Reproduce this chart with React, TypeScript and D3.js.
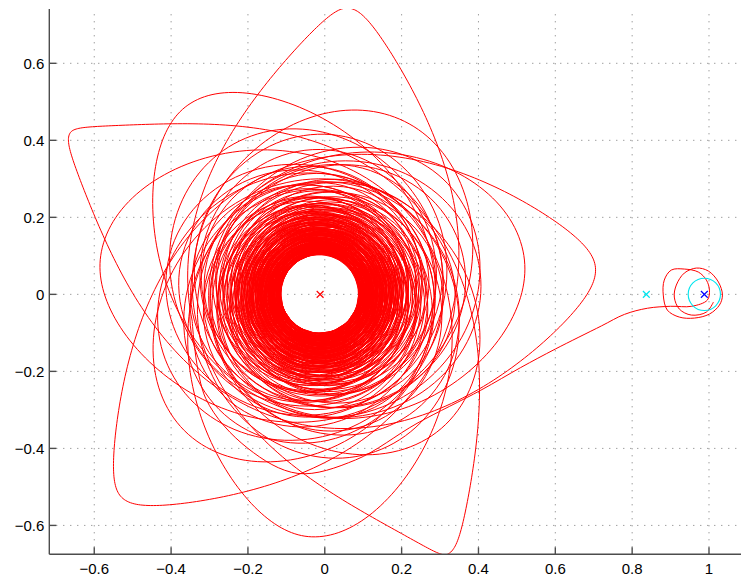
import React, { useMemo } from 'react';
import * as d3 from 'd3';

const W = 744, H = 581;
const PX0 = 49.3, PX1 = 741, PY0 = 9, PY1 = 554.3;
const xDomain: [number, number] = [-0.717, 1.0833];
const yDomain: [number, number] = [-0.675, 0.741];

const xTicks = [-0.6, -0.4, -0.2, 0, 0.2, 0.4, 0.6, 0.8, 1];
const xTickLabels = ['\u22120.6', '\u22120.4', '\u22120.2', '0', '0.2', '0.4', '0.6', '0.8', '1'];
const yTicks = [-0.6, -0.4, -0.2, 0, 0.2, 0.4, 0.6];
const yTickLabels = ['\u22120.6', '\u22120.4', '\u22120.2', '0', '0.2', '0.4', '0.6'];

// Earth-Moon rotating frame
const MU = 0.01215;
const earthPos = [-0.01215, 0];
const moonPos = [0.98785, 0];
const l1Pos = [0.8369, 0];
const moonCircleR = 0.042;

// inner low-thrust spiral: semi-major axis per revolution
const spiralA = [
  0.1040, 0.1043, 0.1045, 0.1048, 0.1050, 0.1053, 0.1055, 0.1058, 0.1060, 0.1063,
  0.1065, 0.1068, 0.1071, 0.1073, 0.1076, 0.1079, 0.1081, 0.1084, 0.1087, 0.1090,
  0.1093, 0.1096, 0.1099, 0.1101, 0.1104, 0.1107, 0.1110, 0.1113, 0.1116, 0.1119,
  0.1122, 0.1125, 0.1128, 0.1132, 0.1135, 0.1138, 0.1141, 0.1144, 0.1147, 0.1150,
  0.1153, 0.1157, 0.1160, 0.1163, 0.1167, 0.1170, 0.1173, 0.1177, 0.1180, 0.1183,
  0.1187, 0.1190, 0.1194, 0.1197, 0.1201, 0.1205, 0.1208, 0.1212, 0.1215, 0.1219,
  0.1223, 0.1227, 0.1231, 0.1235, 0.1239, 0.1243, 0.1246, 0.1250, 0.1254, 0.1258,
  0.1262, 0.1267, 0.1271, 0.1275, 0.1279, 0.1283, 0.1288, 0.1292, 0.1296, 0.1300,
  0.1305, 0.1309, 0.1314, 0.1318, 0.1323, 0.1327, 0.1332, 0.1336, 0.1341, 0.1345,
  0.1350, 0.1355, 0.1360, 0.1364, 0.1369, 0.1374, 0.1379, 0.1384, 0.1388, 0.1393,
  0.1398, 0.1403, 0.1409, 0.1414, 0.1419, 0.1424, 0.1429, 0.1435, 0.1440, 0.1445,
  0.1450, 0.1456, 0.1462, 0.1467, 0.1473, 0.1478, 0.1484, 0.1490, 0.1495, 0.1501,
  0.1507, 0.1513, 0.1519, 0.1525, 0.1531, 0.1537, 0.1543, 0.1549, 0.1555, 0.1561,
  0.1567, 0.1574, 0.1580, 0.1587, 0.1593, 0.1600, 0.1606, 0.1613, 0.1619, 0.1626,
  0.1633, 0.1640, 0.1647, 0.1654, 0.1661, 0.1668, 0.1675, 0.1682, 0.1689, 0.1696,
  0.1703, 0.1711, 0.1719, 0.1726, 0.1734, 0.1741, 0.1749, 0.1757, 0.1764, 0.1772,
  0.1780, 0.1788, 0.1796, 0.1805, 0.1813, 0.1821, 0.1829, 0.1837, 0.1846, 0.1854,
  0.1863, 0.1872, 0.1880, 0.1889, 0.1898, 0.1907, 0.1916, 0.1925, 0.1934, 0.1943,
  0.1952, 0.1962, 0.1971, 0.1981, 0.1991, 0.2000, 0.2010, 0.2020, 0.2029, 0.2039,
  0.2051, 0.2063, 0.2075, 0.2087, 0.2099, 0.2111, 0.2123, 0.2135, 0.2147, 0.2159,
  0.2174, 0.2189, 0.2204, 0.2219, 0.2234, 0.2249, 0.2264, 0.2279, 0.2294, 0.2309,
  0.2328, 0.2347, 0.2366, 0.2385, 0.2404, 0.2423, 0.2442, 0.2461, 0.2480, 0.2499,
  0.2523, 0.2547, 0.2571, 0.2595, 0.2619, 0.2643, 0.2667, 0.2691, 0.2715, 0.2739,
  0.2769, 0.2799, 0.2830, 0.2861, 0.2893,
  0.2935, 0.2978, 0.3022, 0.3067, 0.3113, 0.3160, 0.3208, 0.3257, 0.3307, 0.3358,
  0.3412, 0.3468, 0.3526, 0.3586, 0.3648, 0.3712, 0.3778, 0.3846,
];
// eccentricity per revolution
const spiralE = [
  0.020, 0.027, 0.018, 0.031, 0.023, 0.029, 0.019, 0.033, 0.025, 0.022,
  0.030, 0.021, 0.034, 0.026, 0.019, 0.032, 0.024, 0.028, 0.035, 0.022,
  0.027, 0.036, 0.023, 0.030, 0.020, 0.033, 0.029, 0.025, 0.037, 0.024,
  0.031, 0.022, 0.035, 0.028, 0.038, 0.026, 0.032, 0.023, 0.036, 0.029,
  0.034, 0.025, 0.039, 0.030, 0.027, 0.041, 0.033, 0.028, 0.037, 0.031,
  0.026, 0.040, 0.035, 0.029, 0.043, 0.032, 0.038, 0.027, 0.042, 0.034,
  0.039, 0.030, 0.044, 0.036, 0.031, 0.046, 0.035, 0.041, 0.033, 0.045,
  0.037, 0.048, 0.032, 0.042, 0.038, 0.047, 0.034, 0.044, 0.040, 0.049,
  0.036, 0.046, 0.041, 0.051, 0.039, 0.048, 0.043, 0.053, 0.040, 0.050,
  0.045, 0.055, 0.042, 0.052, 0.047, 0.057, 0.044, 0.054, 0.049, 0.058,
  0.046, 0.056, 0.051, 0.060, 0.048, 0.059, 0.053, 0.062, 0.050, 0.061,
  0.055, 0.064, 0.052, 0.063, 0.057, 0.066, 0.054, 0.065, 0.059, 0.068,
  0.056, 0.067, 0.061, 0.070, 0.058, 0.069, 0.063, 0.072, 0.060, 0.071,
  0.065, 0.074, 0.062, 0.073, 0.067, 0.076, 0.064, 0.075, 0.069, 0.078,
  0.066, 0.077, 0.071, 0.080, 0.068, 0.079, 0.073, 0.082, 0.070, 0.081,
  0.075, 0.084, 0.072, 0.083, 0.077, 0.086, 0.074, 0.085, 0.079, 0.088,
  0.076, 0.087, 0.081, 0.090, 0.078, 0.089, 0.083, 0.092, 0.080, 0.091,
  0.085, 0.094, 0.082, 0.093, 0.087, 0.096, 0.084, 0.095, 0.089, 0.098,
  0.086, 0.097, 0.091, 0.100, 0.088, 0.099, 0.093, 0.102, 0.090, 0.101,
  0.095, 0.104, 0.092, 0.103, 0.097, 0.106, 0.094, 0.105, 0.099, 0.108,
  0.096, 0.107, 0.101, 0.110, 0.098, 0.109, 0.103, 0.112, 0.100, 0.111,
  0.105, 0.114, 0.102, 0.113, 0.107, 0.116, 0.104, 0.115, 0.109, 0.118,
  0.106, 0.117, 0.111, 0.120, 0.108, 0.119, 0.113, 0.122, 0.110, 0.121,
  0.115, 0.124, 0.112, 0.123, 0.127,
  0.121, 0.132, 0.126, 0.137, 0.130, 0.141, 0.134, 0.145, 0.138, 0.150,
  0.143, 0.155, 0.148, 0.160, 0.153, 0.166, 0.158, 0.172,
];

// outer revolutions: apogee radius, following perigee radius, apogee direction (deg, null = free)
const outerApogee = [0.44, 0.47, 0.50, 0.60, 0.54, 0.63, 0.58, 0.50, 0.752, 0.774, 0.72, 0.738, 0.747];
const outerPerigee = [0.29, 0.30, 0.30, 0.31, 0.31, 0.31, 0.32, 0.33, 0.34, 0.34, 0.34, 0.34, 0.34];
const outerApogeeAngle: (number | null)[] = [null, null, 225, 125, 12, 268, 169, 64, 296.2, 147.2, 5.6, 225.6, 84.3];

// final transfer leg to the Moon and capture loops
const finalLegX = [
  -0.31, -0.20, -0.07, 0.08, 0.24, 0.406, 0.51, 0.60, 0.72, 0.78, 0.84, 0.90, 0.955,
  0.9958, 1.0011, 0.9932, 0.9723, 0.9358, 0.9019, 0.8836, 0.8810, 0.8915, 0.9228, 0.9619,
  1.0011, 1.0272, 1.0350, 1.0246, 0.9985, 0.9672, 0.9358, 0.9150, 0.9097, 0.9228, 0.9541,
  0.9932, 1.0115,
];
const finalLegY = [
  -0.27, -0.40, -0.465, -0.43, -0.335, -0.249, -0.19, -0.142, -0.082, -0.052, -0.036, -0.031, -0.031,
  -0.0148, 0.0112, 0.0371, 0.0579, 0.0657, 0.0631, 0.0371, -0.0018, -0.0408, -0.0590, -0.0616,
  -0.0512, -0.0278, -0.0018, 0.0319, 0.0605, 0.0683, 0.0553, 0.0242, -0.0070, -0.0382, -0.0538,
  -0.0460, -0.0200,
];

const GM = 1 - MU;
const DT = 0.016;

type Pt = { t: number; psi: number; r: number };

function halfOrbit(r1: number, r2: number, descending: boolean): Pt[] {
  const a = (r1 + r2) / 2;
  const e = Math.abs(r1 - r2) / (r1 + r2);
  const k = Math.sqrt((a * a * a) / GM);
  const Th = Math.PI * k;
  const n = Math.max(6, Math.ceil(Th / DT));
  const out: Pt[] = [];
  const s = Math.sqrt(1 - e * e);
  for (let i = 0; i <= n; i++) {
    if (descending) {
      const E = Math.PI + (Math.PI * i) / n;
      const r = a * (1 - e * Math.cos(E));
      const t = k * (E - e * Math.sin(E) - Math.PI);
      let nu = Math.atan2(s * Math.sin(E), Math.cos(E) - e);
      if (nu < 0 || i === n) nu += 2 * Math.PI;
      if (i === 0) nu = Math.PI;
      out.push({ t, psi: nu - Math.PI - t, r });
    } else {
      const E = (Math.PI * i) / n;
      const r = a * (1 - e * Math.cos(E));
      const t = k * (E - e * Math.sin(E));
      let nu = Math.atan2(s * Math.sin(E), Math.cos(E) - e);
      if (i === n) nu = Math.PI;
      if (nu < 0) nu += 2 * Math.PI;
      out.push({ t, psi: nu - t, r });
    }
  }
  return out;
}

function buildTrajectory(): [number, number][] {
  const turns: { r: number; target: number | null }[] = [];
  spiralA.forEach((a, i) => {
    turns.push({ r: a * (1 + spiralE[i]), target: null });
    turns.push({ r: a * (1 - spiralE[i]), target: null });
  });
  outerApogee.forEach((ra, i) => {
    turns.push({ r: ra, target: outerApogeeAngle[i] });
    turns.push({ r: outerPerigee[i], target: null });
  });
  const pts: Pt[] = [];
  let t0 = 0, psi0 = 0;
  const marks: { t: number; psi: number; target: number }[] = [];
  for (let i = 0; i < turns.length - 1; i++) {
    const desc = i % 2 === 0;
    if (turns[i].target !== null) marks.push({ t: t0, psi: psi0, target: (turns[i].target as number) * Math.PI / 180 });
    const h = halfOrbit(turns[i].r, turns[i + 1].r, desc);
    h.forEach((p, j) => {
      if (i > 0 && j === 0) return;
      pts.push({ t: t0 + p.t, psi: psi0 + p.psi, r: p.r });
    });
    const last = h[h.length - 1];
    t0 += last.t;
    psi0 += last.psi;
  }
  const wrap = (v: number) => {
    let w = v % (2 * Math.PI);
    if (w > Math.PI) w -= 2 * Math.PI;
    if (w < -Math.PI) w += 2 * Math.PI;
    return w;
  };
  const deltas: number[] = [];
  marks.forEach((m, j) => {
    const raw = m.target - m.psi;
    if (j === 0) deltas.push(wrap(raw));
    else deltas.push(deltas[j - 1] + wrap(raw - deltas[j - 1]));
  });
  const corr = (t: number) => {
    if (marks.length === 0) return 0;
    if (t <= marks[0].t) return deltas[0];
    for (let j = 1; j < marks.length; j++) {
      if (t <= marks[j].t) {
        const f = (t - marks[j - 1].t) / (marks[j].t - marks[j - 1].t);
        return deltas[j - 1] + f * (deltas[j] - deltas[j - 1]);
      }
    }
    return deltas[deltas.length - 1];
  };
  return pts.map((p) => {
    const ang = p.psi + corr(p.t);
    return [earthPos[0] + p.r * Math.cos(ang), p.r * Math.sin(ang)];
  });
}

export default function App() {
  const x = d3.scaleLinear().domain(xDomain).range([PX0, PX1]);
  const y = d3.scaleLinear().domain(yDomain).range([PY1, PY0]);

  const traj = useMemo(() => buildTrajectory(), []);
  const line = d3.line<[number, number]>().x((d) => x(d[0])).y((d) => y(d[1]));
  const mainPath = line(traj) || '';
  const legPts: [number, number][] = [traj[traj.length - 1], ...finalLegX.map((v, i) => [v, finalLegY[i]] as [number, number])];
  const legPath = d3.line<[number, number]>().x((d) => x(d[0])).y((d) => y(d[1])).curve(d3.curveCatmullRom.alpha(0.5))(legPts) || '';

  const font = '"Liberation Sans", Arial, Helvetica, sans-serif';
  const cross = (cx: number, cy: number, color: string, s = 3.4) => (
    <g stroke={color} strokeWidth={1.2}>
      <line x1={x(cx) - s} y1={y(cy) - s} x2={x(cx) + s} y2={y(cy) + s} />
      <line x1={x(cx) - s} y1={y(cy) + s} x2={x(cx) + s} y2={y(cy) - s} />
    </g>
  );

  return (
    <svg width={W} height={H} style={{ position: 'absolute', left: 0, top: 0, background: '#fff' }}>
      <rect x={0} y={0} width={W} height={H} fill="#fff" />
      <defs>
        <clipPath id="plotclip">
          <rect x={PX0} y={PY0} width={PX1 - PX0} height={PY1 - PY0} />
        </clipPath>
      </defs>
      <g stroke="#777" strokeWidth={1} strokeDasharray="1 6">
        {xTicks.map((v) => (
          <line key={'gx' + v} x1={x(v)} x2={x(v)} y1={PY1} y2={PY0} />
        ))}
        {yTicks.map((v) => (
          <line key={'gy' + v} x1={PX0} x2={PX1} y1={y(v)} y2={y(v)} />
        ))}
      </g>
      <g clipPath="url(#plotclip)" fill="none">
        <path d={mainPath} stroke="#ff0000" strokeWidth={1} strokeLinejoin="round" />
        <path d={legPath} stroke="#ff0000" strokeWidth={1} />
        <circle cx={x(moonPos[0])} cy={y(0)} r={x(moonPos[0] + moonCircleR) - x(moonPos[0])} stroke="#00e5ee" strokeWidth={1.1} fill="none" />
        {cross(earthPos[0], earthPos[1], '#ff0000')}
        {cross(moonPos[0], moonPos[1], '#0000ff')}
        {cross(l1Pos[0], l1Pos[1], '#00e5ee')}
      </g>
      <g stroke="#4d4d4d" strokeWidth={1.4}>
        <line x1={PX0} x2={PX0} y1={PY0} y2={PY1} />
        <line x1={PX0} x2={PX1} y1={PY1} y2={PY1} />
        {xTicks.map((v) => (
          <line key={'tx' + v} x1={x(v)} x2={x(v)} y1={PY1} y2={PY1 - 7} />
        ))}
        {yTicks.map((v) => (
          <line key={'ty' + v} x1={PX0} x2={PX0 + 7} y1={y(v)} y2={y(v)} />
        ))}
      </g>
      <g fontFamily={font} fontSize={15} fill="#000">
        {xTicks.map((v, i) => (
          <text key={'lx' + v} x={x(v)} y={574} textAnchor="middle">{xTickLabels[i]}</text>
        ))}
        {yTicks.map((v, i) => (
          <text key={'ly' + v} x={44.3} y={y(v) + 5.3} textAnchor="end">{yTickLabels[i]}</text>
        ))}
      </g>
    </svg>
  );
}
